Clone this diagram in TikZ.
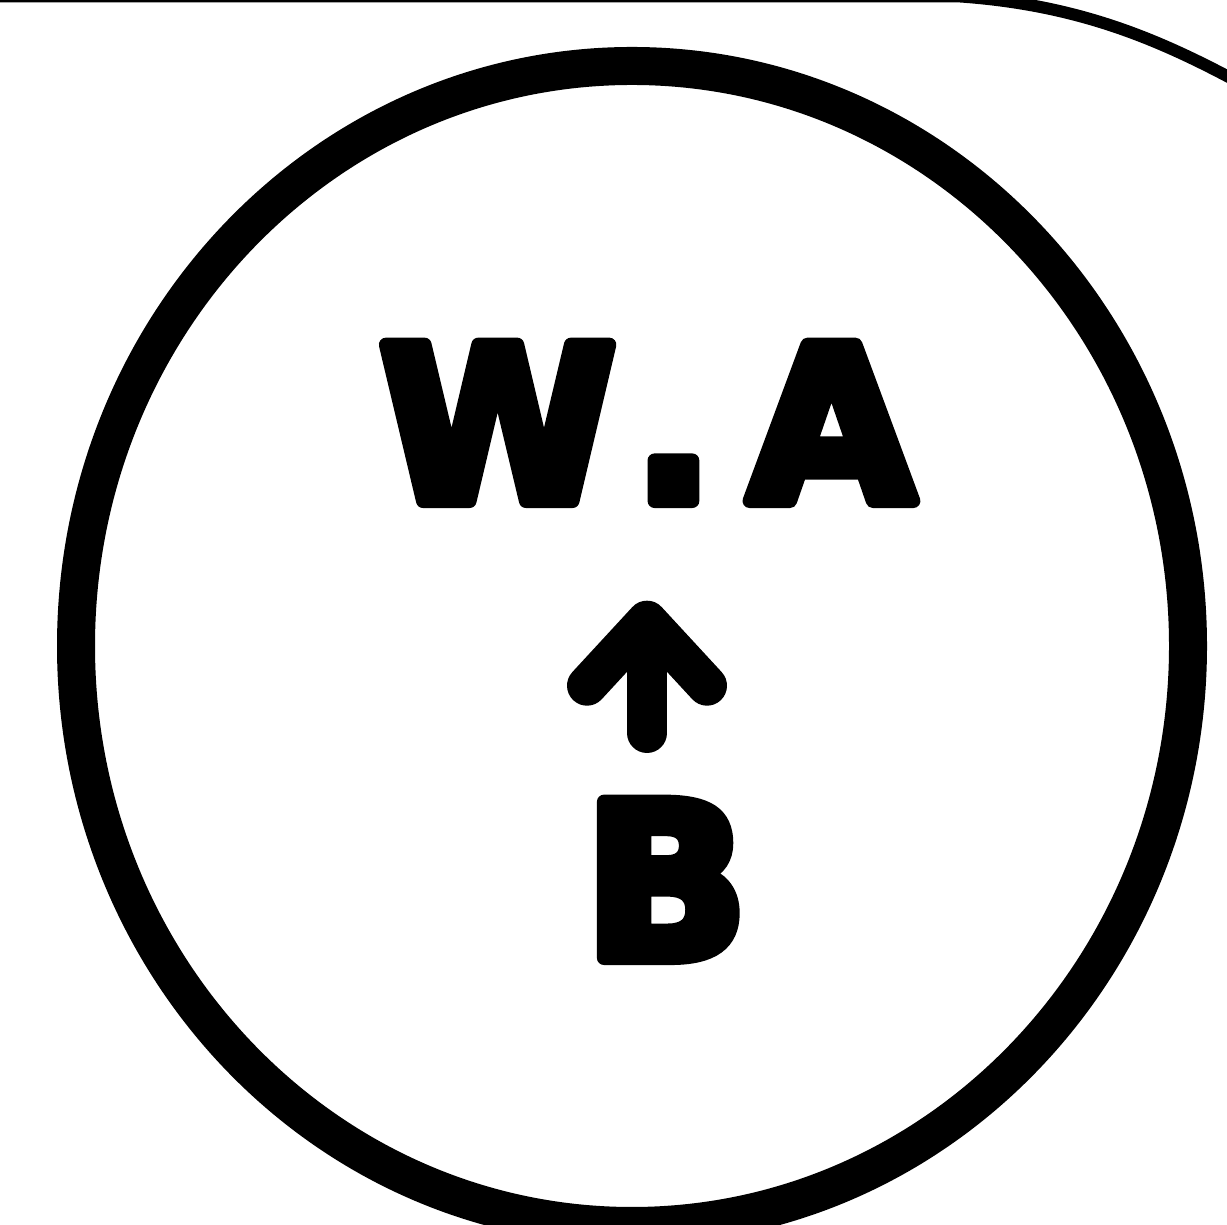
\documentclass[tikz,border=0pt]{standalone}
\usepackage{fontspec}
\usepackage{tikz}
\usetikzlibrary{arrows.meta,shapes.geometric}
\newfontfamily\heavyfont{DejaVu Sans Bold}[LetterSpace=16]
\newcommand{\heavytext}[1]{\special{pdf:literal direct 2 Tr 4 w 1 j}#1\special{pdf:literal direct 0 Tr}}

\begin{document}
\begin{tikzpicture}
  \clip (0,0) rectangle (12.27,12.25);
  \draw[line width=1.2mm] (0,12.285) -- (9.6,12.285) .. controls (10.8,12.2) and (11.6,11.85) .. (12.4,11.42);
  \node[draw, ellipse, line width=3.8mm, minimum width=11.12cm, minimum height=11.6cm, inner sep=0pt] (ring) at (6.32,5.79) {};
  \node[font=\heavyfont\fontsize{61}{61}\selectfont, anchor=base, inner sep=0pt] (wa) at (6.47,7.24) {\heavytext{W.A}};
  \node[font=\heavyfont\fontsize{61}{61}\selectfont, anchor=base, inner sep=0pt] (b) at (6.66,2.67) {\heavytext{B}};
  \draw[line width=4mm, line cap=round, shorten <=0.68cm, shorten >=0.99cm,
    -{Straight Barb[round, length=6.5mm, width=12mm]}] (b.north -| wa) -- (wa.south);
\end{tikzpicture}
\end{document}
